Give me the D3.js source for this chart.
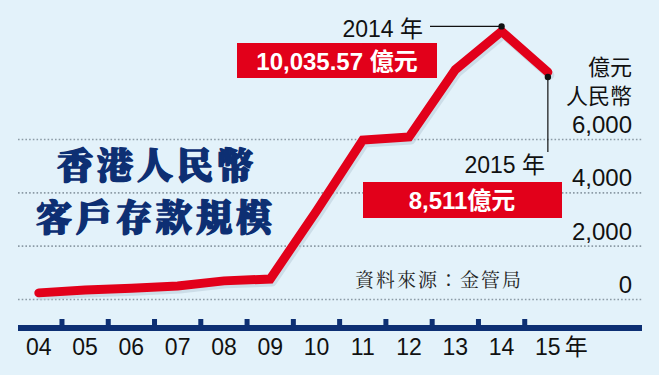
<!DOCTYPE html>
<html>
<head>
<meta charset="utf-8">
<script src="https://cdn.jsdelivr.net/npm/d3@7"></script>
<style>
  body { margin:0; background:#e3f2fa; }
  svg { display:block; }
</style>
</head>
<body>
<svg id="chart" width="659" height="375"></svg>
<script>
// data: RMB customer deposits in HK (億元)
var years = ["04","05","06","07","08","09","10","11","12","13","14","15"];
var deposits = [230, 340, 400, 490, 680, 750, 3300, 5960, 6075, 8600, 10035.57, 8511];
var yTicks = [0, 2000, 4000, 6000];
var yTickLabels = ["0", "2,000", "4,000", "6,000"];
var unitLines = ["億元", "人民幣"];
var titleLines = ["香港人民幣", "客戶存款規模"];
var peakLabel = ["2014 年", "10,035.57 億元"];
var lastLabel = ["2015 年", "8,511億元"];

var W = 659, H = 375;
var red = "#e2001a", navy = "#0d2f73";
var svg = d3.select("#chart");

svg.append("rect").attr("width", W).attr("height", H).attr("fill", "#e3f2fa");

var x = d3.scaleBand().domain(years).range([15.7, 571]).padding(0);
var y = d3.scaleLinear().domain([0, 6000]).range([299, 139]);
var cx = function(d){ return x(d) + x.bandwidth()/2; };

// dotted grid
svg.append("g").selectAll("line")
  .data(yTicks).enter().append("line")
  .attr("x1", 18).attr("x2", 642)
  .attr("y1", function(d){ return y(d) + 0.5; })
  .attr("y2", function(d){ return y(d) + 0.5; })
  .attr("stroke", "#8c9ba6").attr("stroke-width", 1.6)
  .attr("stroke-dasharray", "1.6,2.1");

// y labels
svg.append("g").selectAll("text")
  .data(yTicks).enter().append("text")
  .attr("x", 632).attr("y", function(d){ return y(d) - 6; })
  .attr("text-anchor", "end")
  .attr("font-family", "Liberation Sans, Arial, sans-serif")
  .attr("font-size", 24).attr("fill", "#111")
  .text(function(d,i){ return yTickLabels[i]; });

// unit (one text, two lines)
var unit = svg.append("text").attr("text-anchor", "end")
  .attr("font-family", "Noto Sans CJK TC").attr("font-size", 22).attr("fill", "#111");
unit.selectAll("tspan").data(unitLines).enter().append("tspan")
  .attr("x", 632).attr("y", function(d,i){ return i==0 ? 75 : 104; })
  .text(function(d){ return d; });

// title
svg.append("g").selectAll("text")
  .data(titleLines).enter().append("text")
  .attr("x", function(d,i){ return i==0 ? 57 : 36; })
  .attr("y", function(d,i){ return i==0 ? 179 : 231; })
  .attr("font-family", "Noto Serif CJK TC, Noto Sans CJK TC")
  .attr("font-weight", 900).attr("font-size", 36)
  .attr("letter-spacing", 4).attr("fill", navy)
  .attr("stroke", navy).attr("stroke-width", 1.6).attr("stroke-linejoin", "round")
  .text(function(d){ return d; });

// source
svg.append("text").attr("x", 355).attr("y", 287)
  .attr("font-family", "Noto Serif CJK TC, Noto Sans CJK TC")
  .attr("font-size", 19).attr("letter-spacing", 2).attr("fill", "#222")
  .text("資料來源：金管局");

// x axis bar + ticks
svg.append("rect").attr("x", 18).attr("y", 325).attr("width", 624).attr("height", 6).attr("fill", navy);
svg.append("g").selectAll("rect")
  .data(years.slice(1)).enter().append("rect")
  .attr("x", function(d){ return x(d) - 2.5; })
  .attr("y", 319).attr("width", 5).attr("height", 7).attr("fill", navy);

svg.append("g").selectAll("text")
  .data(years).enter().append("text")
  .attr("x", function(d){ return cx(d); })
  .attr("y", 355)
  .attr("text-anchor", "middle")
  .attr("font-family", "Liberation Sans, Arial, sans-serif")
  .attr("font-size", 23).attr("fill", "#111")
  .text(function(d){ return d; });
svg.append("text").attr("x", cx("15") + 17).attr("y", 355)
  .attr("font-family", "Noto Sans CJK TC").attr("font-size", 23).attr("fill", "#111").text("年");

// line
var pts = years.map(function(d,i){ return [cx(d), y(deposits[i])]; });
var line = d3.line();
svg.append("path").attr("d", line(pts))
  .attr("transform", "translate(2,3)")
  .attr("fill", "none").attr("stroke", "#b9ccd8").attr("stroke-opacity", 0.55)
  .attr("stroke-width", 9).attr("stroke-linejoin", "round").attr("stroke-linecap", "round");
svg.append("path").attr("d", line(pts))
  .attr("fill", "none").attr("stroke", red)
  .attr("stroke-width", 9).attr("stroke-linejoin", "miter").attr("stroke-linecap", "round");

// annotations
var p14 = pts[10], p15 = pts[11];
svg.append("line").attr("x1", 430).attr("x2", p14[0]).attr("y1", p14[1] - 5).attr("y2", p14[1] - 5)
  .attr("stroke", "#111").attr("stroke-width", 1.2);
svg.append("circle").attr("cx", p14[0]).attr("cy", p14[1] - 5).attr("r", 3.2).attr("fill", "#111");
svg.append("text").attr("x", 423).attr("y", 37).attr("text-anchor", "end")
  .attr("font-family", "Liberation Sans, Noto Sans CJK TC").attr("font-size", 23).attr("fill", "#111")
  .text(peakLabel[0]);
svg.append("rect").attr("x", 237).attr("y", 43).attr("width", 200).attr("height", 35).attr("fill", red);
svg.append("text").attr("x", 337).attr("y", 70).attr("text-anchor", "middle")
  .attr("font-family", "Liberation Sans, Noto Sans CJK TC").attr("font-weight", "bold")
  .attr("font-size", 24).attr("fill", "#fff").text(peakLabel[1]);

svg.append("line").attr("x1", p15[0]).attr("x2", p15[0]).attr("y1", p15[1] + 5).attr("y2", 152)
  .attr("stroke", "#111").attr("stroke-width", 1.2);
svg.append("circle").attr("cx", p15[0]).attr("cy", p15[1] + 5).attr("r", 3.2).attr("fill", "#111");
svg.append("text").attr("x", 545).attr("y", 173).attr("text-anchor", "end")
  .attr("font-family", "Liberation Sans, Noto Sans CJK TC").attr("font-size", 23).attr("fill", "#111")
  .text(lastLabel[0]);
svg.append("rect").attr("x", 363).attr("y", 182).attr("width", 199).attr("height", 36).attr("fill", red);
svg.append("text").attr("x", 462).attr("y", 209).attr("text-anchor", "middle")
  .attr("font-family", "Liberation Sans, Noto Sans CJK TC").attr("font-weight", "bold")
  .attr("font-size", 24).attr("fill", "#fff").text(lastLabel[1]);
</script>
</body>
</html>
